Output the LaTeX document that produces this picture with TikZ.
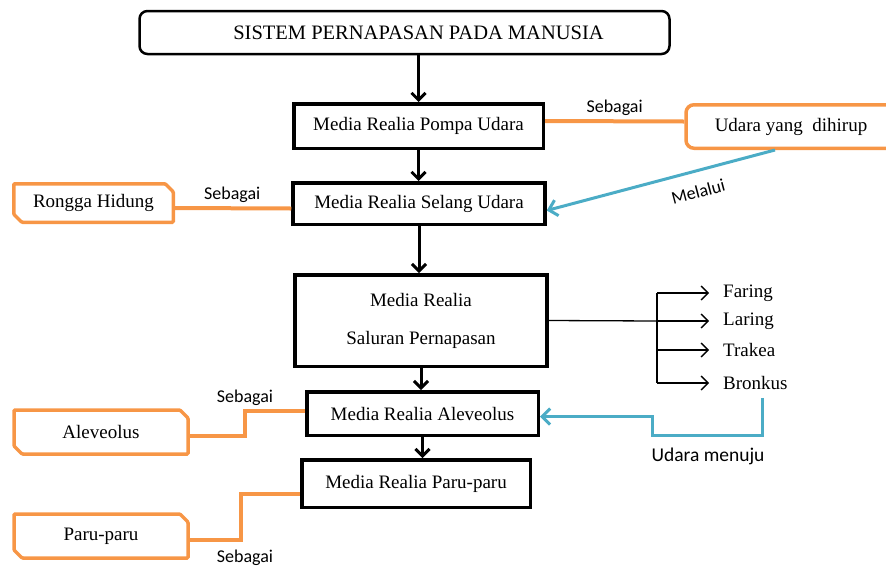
\documentclass[tikz,border=0pt]{standalone}
\usepackage{fontspec}
\setmainfont{Liberation Serif}
\newfontfamily\labelfont{Carlito}
\usetikzlibrary{arrows.meta}
\definecolor{orng}{RGB}{247,150,70}
\definecolor{aqua}{RGB}{75,172,198}

\begin{document}
\begin{tikzpicture}[x=1pt,y=-1pt]
\tikzstyle{every node}=[inner sep=0pt,font=\fontsize{19}{22}\selectfont]
\tikzstyle{judul}=[draw,line width=2.5pt,rounded corners=8pt,minimum width=530pt,minimum height=43pt,font=\fontsize{20.5}{24}\selectfont]
\tikzstyle{media}=[draw,line width=3.5pt]
\tikzstyle{potong}=[outer sep=0pt,minimum width=174pt,minimum height=44pt]
\tikzstyle{keterangan}=[font=\labelfont\fontsize{18}{21}\selectfont]
\tikzstyle{panah}=[line width=3pt,-{Straight Barb[length=7pt,width=14pt]}]
\tikzstyle{jalur}=[orng,line width=4pt]
\tikzstyle{biru}=[aqua,line width=3pt,-{Straight Barb[length=8pt,width=16pt]}]
\tikzstyle{ranting}=[line width=1.3pt,-{Straight Barb[length=7pt,width=14pt]}]
\useasboundingbox (0,0) rectangle (886,571);

% kotak utama
\node[judul] (judul) at (404.5,32.5) {\hspace*{28pt}SISTEM PERNAPASAN PADA MANUSIA};
\node[media,minimum width=249.5pt,minimum height=44.5pt] (pompa) at (418.5,126) {Media Realia Pompa Udara};
\node[media,minimum width=252pt,minimum height=41.5pt] (selang) at (419,203.5) {Media Realia Selang Udara};
\node[media,minimum width=252pt,minimum height=91.5pt,align=center] (saluran) at (421,320.5) {Media Realia\\[16pt]Saluran Pernapasan};
\node[media,minimum width=231.5pt,minimum height=43.5pt] (alveolus) at (422.5,413.5) {Media Realia Aleveolus};
\node[media,minimum width=228.5pt,minimum height=47.5pt] (paru) at (416,483.5) {Media Realia Paru-paru};

\draw[panah] (judul.south -| pompa.north) -- (pompa.north);
\draw[panah] (pompa.south) -- (pompa.south |- selang.north);
\draw[panah] (selang.south) -- (selang.south |- saluran.north);
\draw[panah] (saluran.south) -- (saluran.south |- alveolus.north);
\draw[panah] (alveolus.south) -- (alveolus.south |- paru.north);

% kotak oranye
\node[draw=orng,line width=3.5pt,rounded corners=8pt,minimum width=210pt,minimum height=43.5pt] (udara) at (791,126.5) {Udara yang\ \ dihirup};
\node[potong,minimum width=159.5pt,minimum height=38.5pt] (hidung) at (93.5,203) {Rongga Hidung};
\node[potong] (aleveolus) at (101,432) {Aleveolus};
\node[potong] (parukiri) at (101,536) {Paru-paru};
\foreach \n in {hidung,aleveolus,parukiri}
\draw[orng,line width=3.5pt,rounded corners=1pt] (\n.north west) -- ([xshift=-8pt]\n.north east) -- ([yshift=-8pt]\n.north east) -- (\n.south east) -- ([xshift=8pt]\n.south west) -- ([yshift=8pt]\n.south west) -- cycle;

\draw[jalur] ([yshift=5pt]pompa.east) -- ([yshift=5pt]udara.west) node[midway,above=4pt,keterangan,black] {Sebagai};
\draw[jalur] ([yshift=-5pt]hidung.east) -- ([yshift=-5pt]selang.west) node[midway,above=4pt,keterangan,black] {Sebagai};
\draw[jalur] ([yshift=-4pt]aleveolus.east) -- ++(57,0) |- ([yshift=3pt]alveolus.west);
\draw[jalur] ([yshift=-4pt]parukiri.east) -- ++(53,0) |- ([yshift=-10pt]paru.west);
\node[keterangan] (sebagai3) at (245,398) {Sebagai};
\node[keterangan] (sebagai4) at (245,558) {Sebagai};

% panah biru
\draw[biru] ([xshift=-16pt]udara.south) -- ([yshift=-7pt]selang.east) node[pos=0.36,sloped,below=13pt,keterangan,black] {Melalui};

% cabang saluran
\coordinate (cabang) at (657,321);
\node[anchor=west] (faring) at (723,293) {Faring};
\node[anchor=west] (laring) at (723,321) {Laring};
\node[anchor=west] (trakea) at (723,350) {Trakea};
\node[anchor=west] (bronkus) at (723,383) {Bronkus};
\draw[line width=1.3pt] (saluran.east) -- (cabang);
\draw[line width=1.3pt] (cabang |- faring.west) -- (cabang |- bronkus.west);
\foreach \n in {faring,laring,trakea,bronkus}
\draw[ranting] (cabang |- \n.west) -- ([xshift=-14pt]\n.west);

\coordinate (belok) at (652,435);
\draw[biru] ([xshift=7pt,yshift=-8pt]bronkus.south) |- (belok) |- ([yshift=-3pt]alveolus.east);
\node[keterangan,font=\labelfont\fontsize{19.5}{22}\selectfont] (menuju) at (708,456) {Udara menuju};
\end{tikzpicture}
\end{document}
